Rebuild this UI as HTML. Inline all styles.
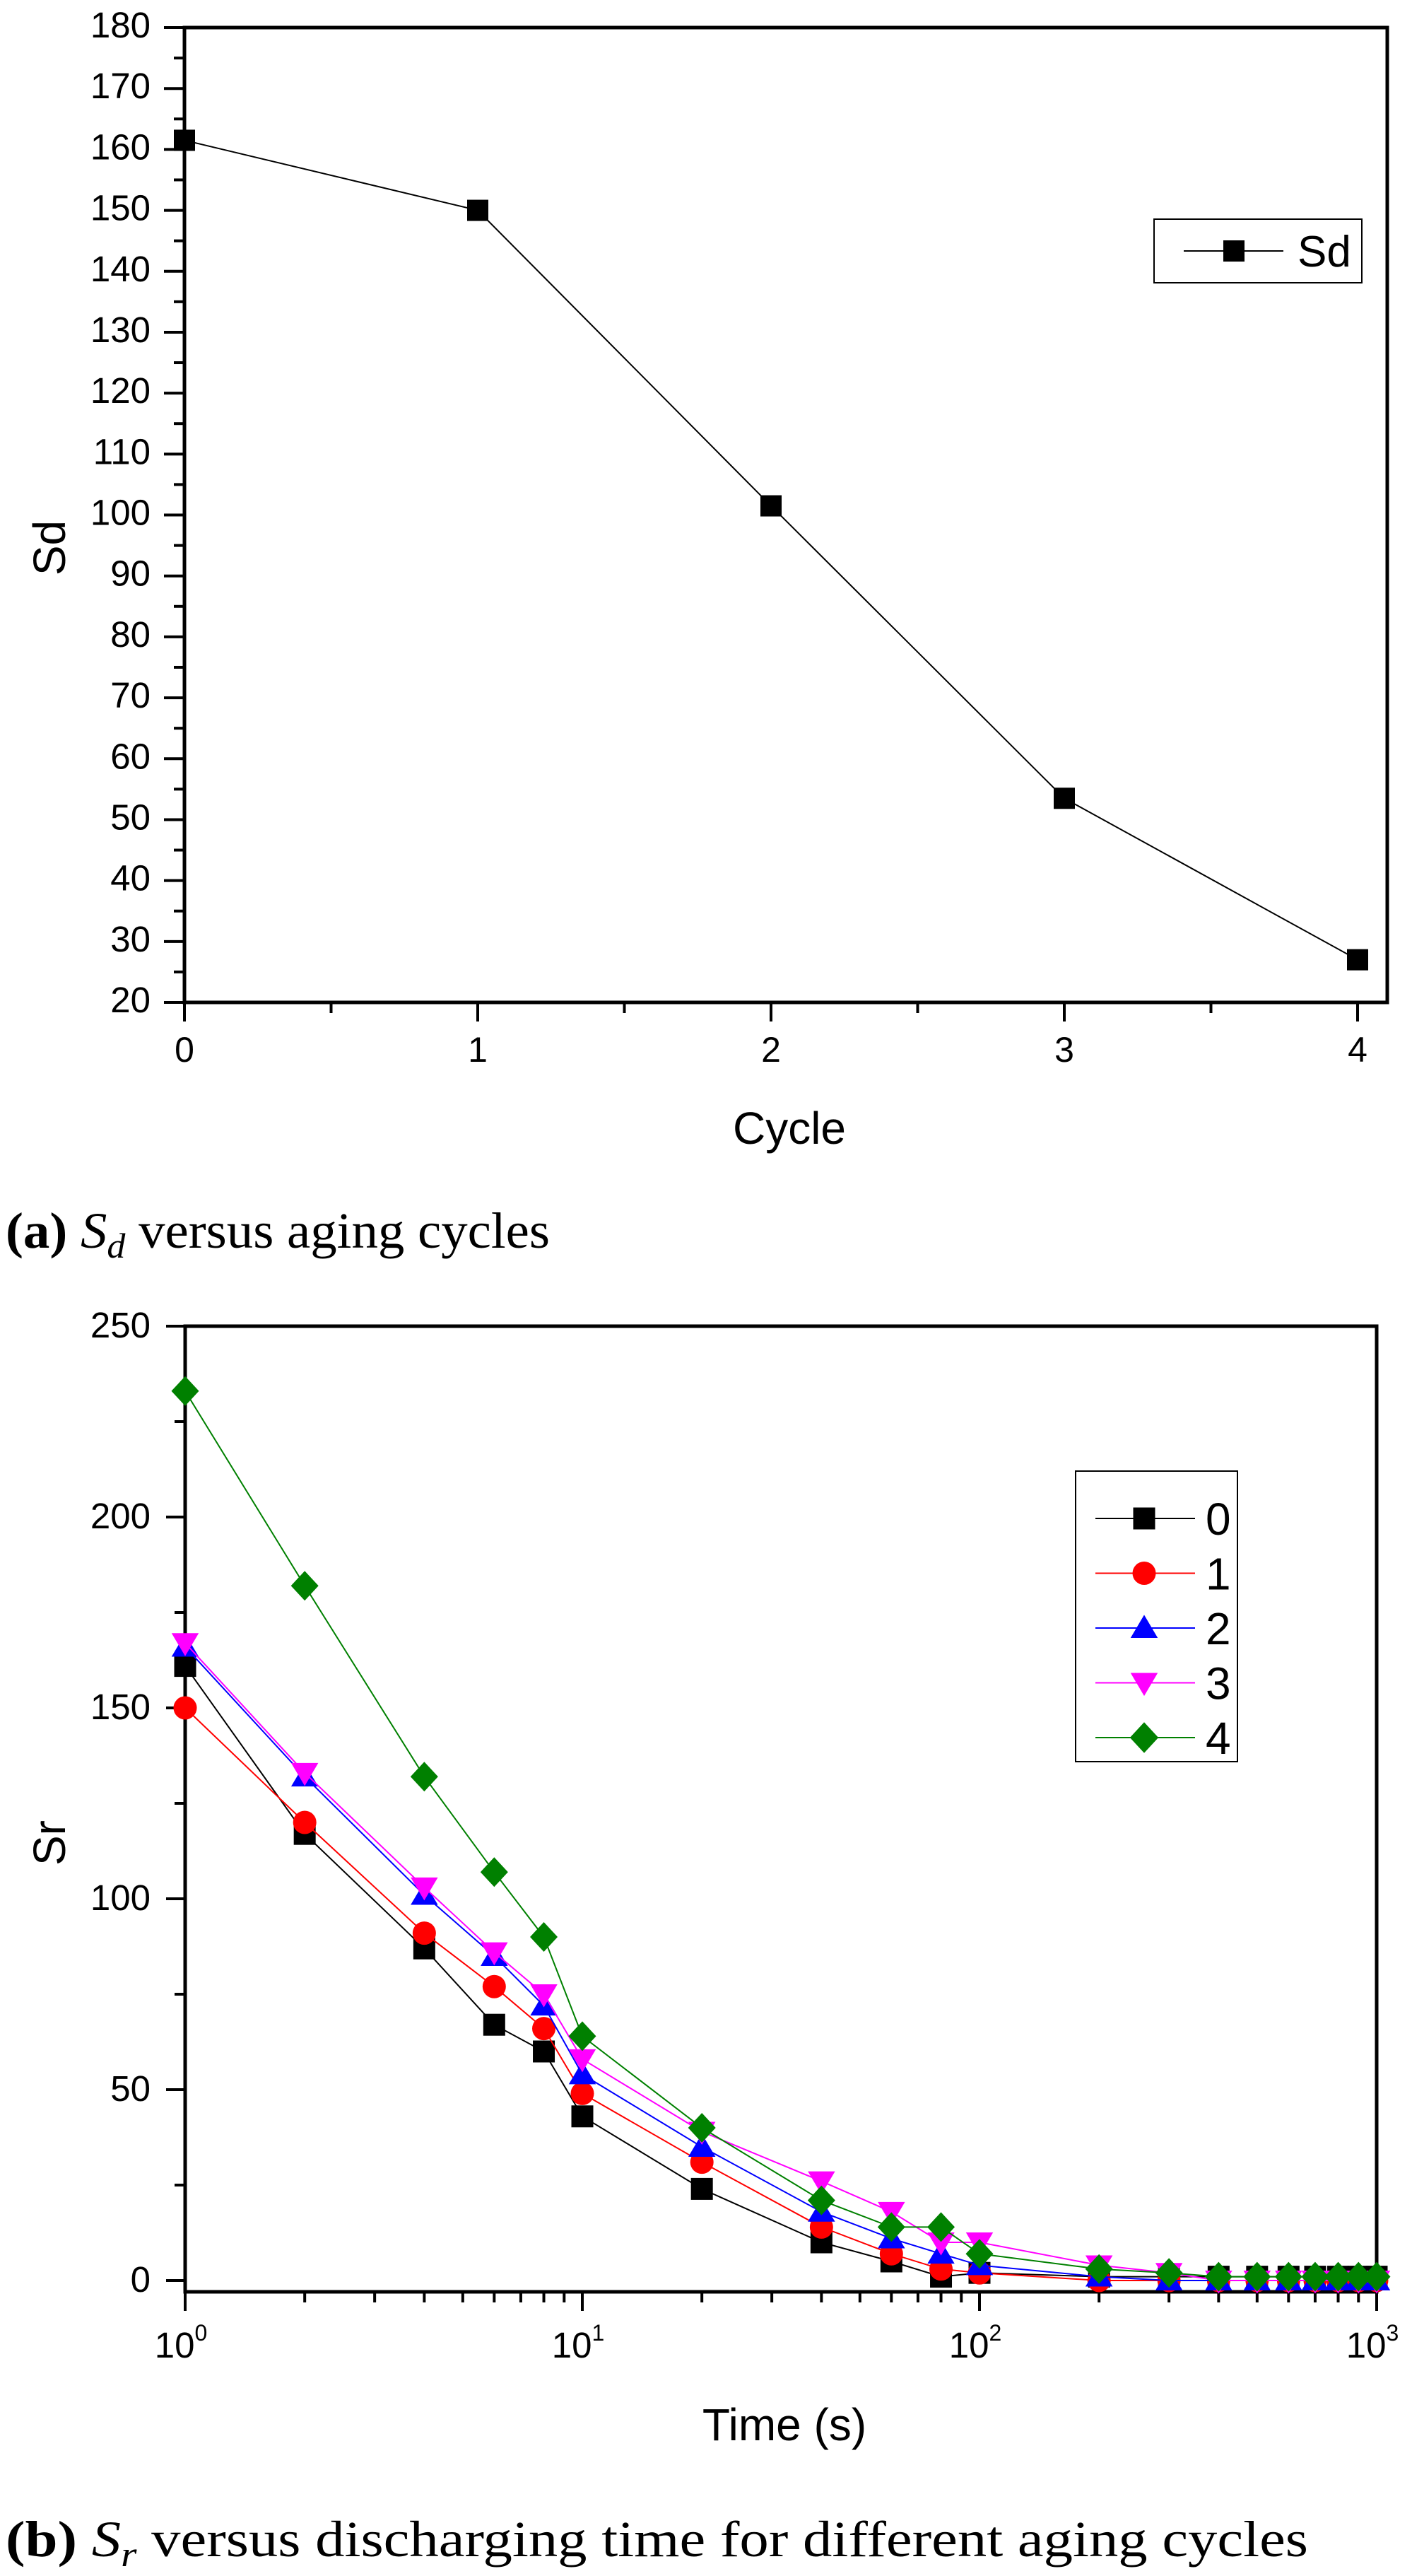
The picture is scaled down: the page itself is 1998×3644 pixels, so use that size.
<!DOCTYPE html>
<html><head><meta charset="utf-8"><style>
html,body{margin:0;padding:0;background:#fff;width:1998px;height:3644px;overflow:hidden}
svg{display:block}
text{font-family:"Liberation Sans",Arial,sans-serif}
.cap{font-family:"Liberation Serif",serif}
</style></head><body>
<svg id="fig" width="1998" height="3644" viewBox="0 0 1998 3644">
<g id="chartA"></g>
<g id="chartB"></g>
<text class="cap" x="8" y="1765" font-size="72" textLength="770" lengthAdjust="spacingAndGlyphs"><tspan font-weight="bold">(a)</tspan> <tspan font-style="italic">S</tspan><tspan font-style="italic" font-size="50" dy="14">d</tspan><tspan dy="-14"> versus aging cycles</tspan></text>
<text class="cap" x="8" y="3616" font-size="72" textLength="1843" lengthAdjust="spacingAndGlyphs"><tspan font-weight="bold">(b)</tspan> <tspan font-style="italic">S</tspan><tspan font-style="italic" font-size="50" dy="14">r</tspan><tspan dy="-14"> versus discharging time for different aging cycles</tspan></text>
</svg>
<script>
// Chart A data
const cyclesA = [0, 1, 2, 3, 4];
const sdValues = [161.5, 150, 101.5, 53.5, 27];
const yTicksA = [20,30,40,50,60,70,80,90,100,110,120,130,140,150,160,170,180];
const xTicksA = [0,1,2,3,4];
// Chart B data
const timesB = [1,2,4,6,8,10,20,40,60,80,100,200,300,400,500,600,700,800,900,1000];
const sr0 = [161,117,87,67,60,43,24,10,5,1,2,1,1,1,1,1,1,1,1,1];
const sr1 = [150,120,91,77,66,49,31,14,7,3,2,0,0,0,0,0,0,0,0,0];
const sr2 = [166,132,101,85,72,54,35,18,11,7,4,1,0,0,0,0,0,0,0,0];
const sr3 = [167,133,103,86,75,58,39,26,18,10,10,4,2,0,0,0,0,0,0,0];
const sr4 = [233,182,132,107,90,64,40,21,14,14,7,3,2,1,1,1,1,1,1,1];
const seriesNames = ["0","1","2","3","4"];
const yTicksB = [0,50,100,150,200,250];
const xDecades = [0,1,2,3];

const NS="http://www.w3.org/2000/svg";
function mk(parent,tag,attrs,txt){const e=document.createElementNS(NS,tag);for(const k in attrs)e.setAttribute(k,attrs[k]);if(txt!==undefined)e.textContent=txt;parent.appendChild(e);return e;}

function marker(g,shape,cx,cy,color,s){
  let e;
  if(shape==="square") e=mk(g,"rect",{x:cx-s/2,y:cy-s/2,width:s,height:s,fill:color});
  else if(shape==="circle") e=mk(g,"circle",{cx:cx,cy:cy,r:s/2+1,fill:color});
  else if(shape==="up") e=mk(g,"polygon",{points:`${cx},${cy-s*0.6} ${cx-s*0.62},${cy+s*0.45} ${cx+s*0.62},${cy+s*0.45}`,fill:color});
  else if(shape==="down") e=mk(g,"polygon",{points:`${cx},${cy+s*0.6} ${cx-s*0.62},${cy-s*0.45} ${cx+s*0.62},${cy-s*0.45}`,fill:color});
  else e=mk(g,"polygon",{points:`${cx},${cy-s*0.7} ${cx+s*0.65},${cy} ${cx},${cy+s*0.7} ${cx-s*0.65},${cy}`,fill:color});
  return e;
}

// ---- Chart A ----
(function(){
  const g=document.getElementById('chartA');
  const L=261,R=1963,T=39,B=1418;
  const x=v=>L+v*415;
  const y=v=>B-(v-20)*(B-T)/160;
  for(let v=20;v<=180;v+=5){
    const t=mk(g,"line",{x1:L,x2:L-(v%10===0?29:15),y1:y(v),y2:y(v),stroke:"#000","stroke-width":4});
    
    
  }
  yTicksA.forEach(v=>{
    const t=mk(g,"text",{x:213,y:y(v)+14,"font-size":51,"text-anchor":"end"},String(v));
    
    
  });
  for(let v=0;v<=4;v+=0.5){
    const t=mk(g,"line",{x1:x(v),x2:x(v),y1:B,y2:B+(v%1===0?27:15),stroke:"#000","stroke-width":4});
    
    
  }
  xTicksA.forEach(v=>{
    const t=mk(g,"text",{x:x(v),y:1502,"font-size":50,"text-anchor":"middle"},String(v));
    
    
  });
  const fr=mk(g,"rect",{x:L,y:T,width:R-L,height:B-T,fill:"none",stroke:"#000","stroke-width":5});
  
  
  const ln=mk(g,"polyline",{points:cyclesA.map((c,i)=>x(c)+","+y(sdValues[i])).join(" "),fill:"none",stroke:"#000","stroke-width":2});
  
  
  cyclesA.forEach((c,i)=>{
    const m=marker(g,"square",x(c),y(sdValues[i]),"#000",30);
    
    
  });
  const xt=mk(g,"text",{x:1117,y:1618,"font-size":64,"text-anchor":"middle"},"Cycle");
  
  
  const yt=mk(g,"text",{x:92,y:775,"font-size":64,"text-anchor":"middle",transform:"rotate(-90 92 775)"},"Sd");
  
  
  const lg=mk(g,"g",{});
  
  
  mk(lg,"rect",{x:1633,y:310,width:294,height:90,fill:"#fff",stroke:"#000","stroke-width":2});
  mk(lg,"line",{x1:1675,x2:1816,y1:355,y2:355,stroke:"#000","stroke-width":2});
  marker(lg,"square",1746,355,"#000",30);
  mk(lg,"text",{x:1836,y:377,"font-size":62},"Sd");
})();

// ---- Chart B ----
(function(){
  const g=document.getElementById('chartB');
  const L=262,R=1948,T=1876,B=3242;
  const x=v=>L+Math.log10(v)*(R-L)/3;
  const y0=3226,per=(3226-1876)/250;
  const y=v=>y0-v*per;
  for(let v=0;v<=250;v+=25){
    const t=mk(g,"line",{x1:L,x2:L-(v%50===0?27:15),y1:y(v),y2:y(v),stroke:"#000","stroke-width":4});
    
    
  }
  yTicksB.forEach(v=>{
    const t=mk(g,"text",{x:213,y:y(v)+16,"font-size":51,"text-anchor":"end"},String(v));
    
    
  });
  for(let d=0;d<3;d++)for(let k=1;k<=10;k++){
    const v=k*Math.pow(10,d);
    const t=mk(g,"line",{x1:x(v),x2:x(v),y1:B,y2:B+(k===1||k===10?27:15),stroke:"#000","stroke-width":4});
    
    
  }
  xDecades.forEach(d=>{
    const t=mk(g,"text",{x:x(Math.pow(10,d))-6,y:3335,"font-size":51,"text-anchor":"middle"});
    
    
    mk(t,"tspan",{},"10");
    mk(t,"tspan",{dy:-24,"font-size":32},String(d));
  });
  const fr=mk(g,"rect",{x:L,y:T,width:R-L,height:B-T,fill:"none",stroke:"#000","stroke-width":5});
  
  
  const series=[sr0,sr1,sr2,sr3,sr4];
  const colors=["#000000","#ff0000","#0000ff","#ff00ff","#008000"];
  const shapes=["square","circle","up","down","diamond"];
  series.forEach((vals,si)=>{
    const sg=mk(g,"g",{});
    
    
    const ln=mk(sg,"polyline",{points:timesB.map((t,i)=>x(t)+","+y(vals[i])).join(" "),fill:"none",stroke:colors[si],"stroke-width":2});
    
    
    timesB.forEach((t,i)=>{
      const m=marker(sg,shapes[si],x(t),y(vals[i]),colors[si],si===4?30:31);
      
      
    });
  });
  const xt=mk(g,"text",{x:1110,y:3452,"font-size":64,"text-anchor":"middle"},"Time (s)");
  
  
  const yt=mk(g,"text",{x:92,y:2607,"font-size":64,"text-anchor":"middle",transform:"rotate(-90 92 2607)"},"Sr");
  
  
  const lg=mk(g,"g",{});
  
  
  mk(lg,"rect",{x:1522,y:2081,width:229,height:411,fill:"#fff",stroke:"#000","stroke-width":2});
  seriesNames.forEach((n,i)=>{
    const ey=2148+i*77.5;
    const en=mk(lg,"g",{});
    
    
    mk(en,"line",{x1:1550,x2:1691,y1:ey,y2:ey,stroke:colors[i],"stroke-width":2});
    marker(en,shapes[i],1619,ey,colors[i],31);
    mk(en,"text",{x:1706,y:ey+23,"font-size":64},n);
  });
})();
</script>
</body></html>
